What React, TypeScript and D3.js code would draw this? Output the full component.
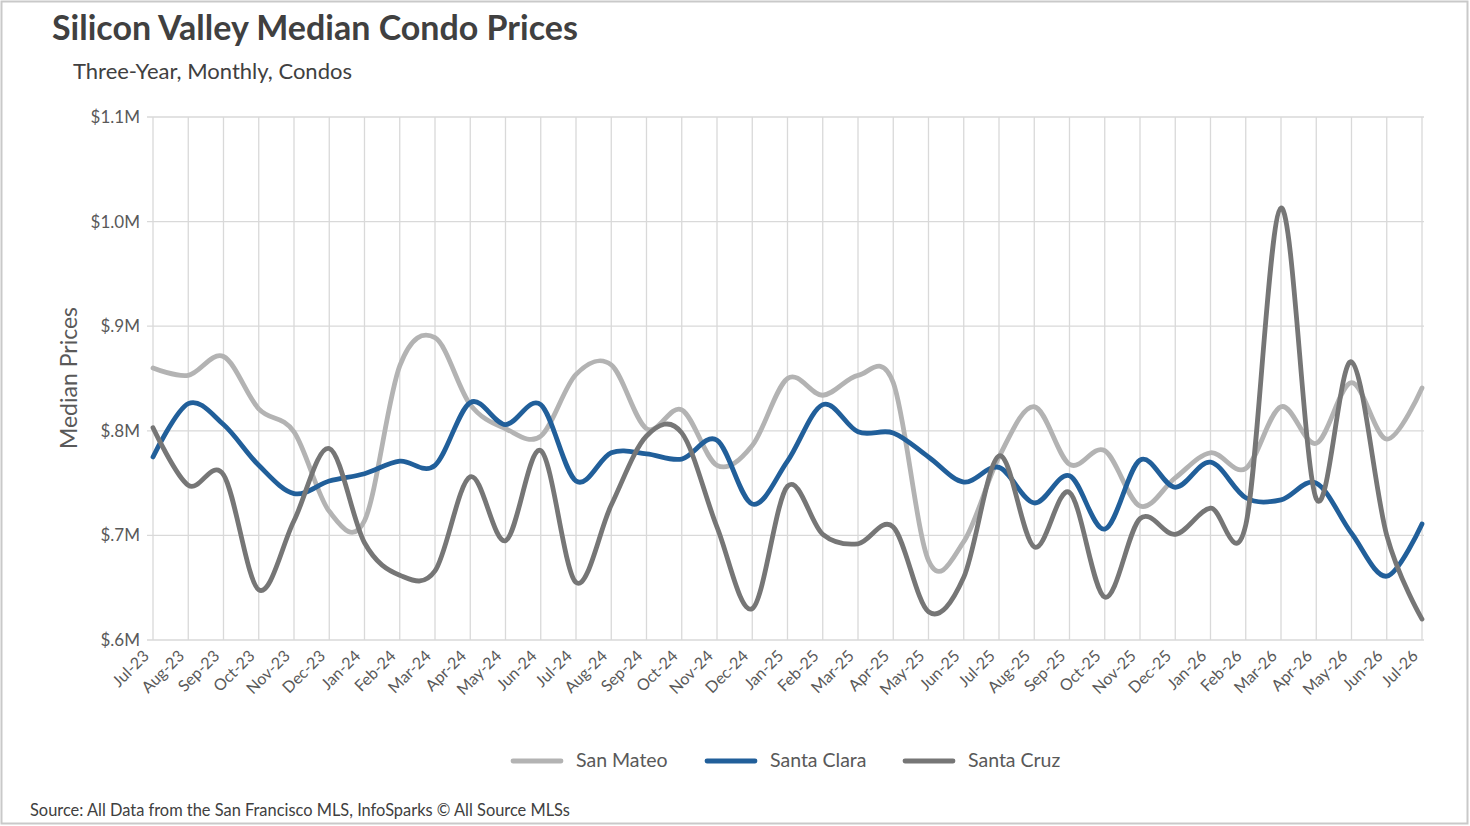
import React from "react";
import * as d3 from "d3";

const months = [
  "Jul-23","Aug-23","Sep-23","Oct-23","Nov-23","Dec-23",
  "Jan-24","Feb-24","Mar-24","Apr-24","May-24","Jun-24",
  "Jul-24","Aug-24","Sep-24","Oct-24","Nov-24","Dec-24",
  "Jan-25","Feb-25","Mar-25","Apr-25","May-25","Jun-25",
  "Jul-25","Aug-25","Sep-25","Oct-25","Nov-25","Dec-25",
  "Jan-26","Feb-26","Mar-26","Apr-26","May-26","Jun-26","Jul-26",
];

// values in $M
const sanMateo = [
  0.860, 0.853, 0.871, 0.821, 0.799, 0.723,
  0.714, 0.862, 0.889, 0.825, 0.802, 0.795,
  0.854, 0.863, 0.802, 0.820, 0.767, 0.786,
  0.850, 0.834, 0.853, 0.846, 0.676, 0.694,
  0.775, 0.823, 0.768, 0.781, 0.728, 0.755,
  0.779, 0.764, 0.823, 0.788, 0.846, 0.792, 0.841,
];

const santaClara = [
  0.775, 0.826, 0.806, 0.767, 0.740, 0.752,
  0.759, 0.771, 0.767, 0.827, 0.806, 0.825,
  0.752, 0.779, 0.778, 0.773, 0.791, 0.730,
  0.771, 0.825, 0.799, 0.798, 0.775, 0.751,
  0.765, 0.731, 0.757, 0.706, 0.772, 0.746,
  0.770, 0.736, 0.734, 0.750, 0.702, 0.661, 0.711,
];

const santaCruz = [
  0.803, 0.748, 0.758, 0.648, 0.714, 0.783,
  0.693, 0.662, 0.666, 0.756, 0.695, 0.781,
  0.655, 0.729, 0.795, 0.798, 0.708, 0.630,
  0.747, 0.701, 0.692, 0.708, 0.627, 0.660,
  0.776, 0.689, 0.741, 0.641, 0.716, 0.701,
  0.726, 0.710, 1.013, 0.735, 0.866, 0.700, 0.620,
];

const yTicks = [0.6, 0.7, 0.8, 0.9, 1.0, 1.1];
const yTickLabels = ["$.6M", "$.7M", "$.8M", "$.9M", "$1.0M", "$1.1M"];

const seriesNames = ["San Mateo", "Santa Clara", "Santa Cruz"];
const seriesValues = [sanMateo, santaClara, santaCruz];
const seriesColors = ["#b3b3b3", "#215f9a", "#767676"];

const W = 1470;
const H = 826;
const FONT = "Lato, 'Open Sans', sans-serif";

export default function App() {
  const x = d3.scalePoint<string>().domain(months).range([153, 1422]);
  const y = d3.scaleLinear().domain([0.6, 1.1]).range([640, 117]);

  const line = d3
    .line<number>()
    .x((_, i) => x(months[i]) as number)
    .y((d) => y(d))
    .curve(d3.curveCardinal.tension(0));

  const legendX = [513, 707, 905];

  return (
    <svg
      width={W}
      height={H}
      style={{ position: "absolute", left: 0, top: 0, background: "#fff" }}
      fontFamily={FONT}
    >
      <rect x={0} y={0} width={W} height={H} fill="#fff" />
      <rect x={1.5} y={1.5} width={W - 4} height={H - 4} fill="none" stroke="#c9c9c9" strokeWidth={2} />

      <text x={52} y={40} fontSize={34} fontWeight={700} fill="#404040">
        Silicon Valley Median Condo Prices
      </text>
      <text x={73} y={79} fontSize={22} fill="#404040">
        Three-Year, Monthly, Condos
      </text>

      {/* horizontal gridlines */}
      {yTicks.map((t, i) => (
        <g key={"h" + i}>
          <line x1={147} x2={1424} y1={y(t)} y2={y(t)} stroke="#d9d9d9" strokeWidth={1.3} />
          <text x={140} y={y(t) + 6} textAnchor="end" fontSize={17} fill="#595959">
            {yTickLabels[i]}
          </text>
        </g>
      ))}

      {/* vertical gridlines */}
      {months.map((m) => (
        <line
          key={"v" + m}
          x1={x(m)}
          x2={x(m)}
          y1={y(1.1)}
          y2={y(0.6)}
          stroke="#d9d9d9"
          strokeWidth={1.3}
        />
      ))}

      {/* x tick labels */}
      {months.map((m) => (
        <text
          key={"xl" + m}
          transform={`translate(${(x(m) as number) - 3},${657}) rotate(-45)`}
          textAnchor="end"
          fontSize={16}
          fill="#595959"
        >
          {m}
        </text>
      ))}

      <text
        transform={`translate(77,378) rotate(-90)`}
        textAnchor="middle"
        fontSize={23}
        fill="#595959"
      >
        Median Prices
      </text>

      {/* series */}
      {seriesValues.map((vals, i) => (
        <path
          key={"s" + i}
          d={line(vals) || ""}
          fill="none"
          stroke={seriesColors[i]}
          strokeWidth={4.8}
          strokeLinecap="round"
          strokeLinejoin="round"
        />
      ))}

      {/* legend */}
      {seriesNames.map((n, i) => (
        <g key={"lg" + i}>
          <line
            x1={legendX[i]}
            x2={legendX[i] + 48}
            y1={761}
            y2={761}
            stroke={seriesColors[i]}
            strokeWidth={4.8}
            strokeLinecap="round"
          />
          <text x={legendX[i] + 63} y={767} fontSize={19.5} fill="#595959">
            {n}
          </text>
        </g>
      ))}

      <text x={30} y={816} fontSize={16.4} fill="#404040">
        Source: All Data from the San Francisco MLS, InfoSparks © All Source MLSs
      </text>
    </svg>
  );
}
